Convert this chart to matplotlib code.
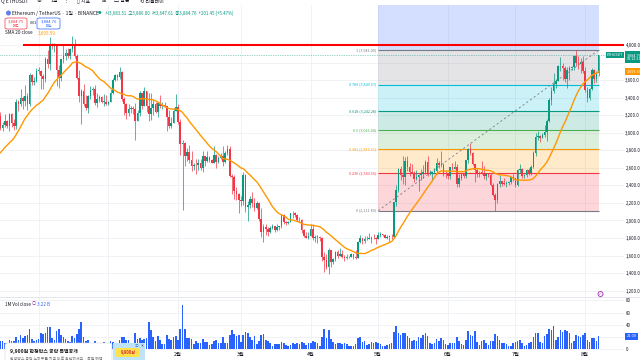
import numpy as np
import pandas as pd
import matplotlib
matplotlib.use("Agg")
import matplotlib.pyplot as plt
import matplotlib.transforms as mtrans
from matplotlib.patches import Rectangle, FancyBboxPatch, Ellipse

plt.rcParams['font.family'] = ['Noto Sans CJK KR', 'DejaVu Sans']

# ETHUSDT 1D, 2024-11-14 .. 2025-08-07
start_date = '2024-11-14'
# closes before the window, only used to warm up the SMA 20
close_prior = [2507, 2528, 2568, 2638, 2659, 2518, 2512, 2493, 2456, 2399,
               2421, 2722, 2895, 2962, 3127, 3183, 3370, 3244, 3187]

close = [
    # Nov
    3058, 3091, 3132, 3075, 3209, 3106, 3072, 3355, 3326, 3394, 3362, 3415, 3326, 3655, 3580, 3591, 3705,
    # Dec
    3708, 3645, 3613, 3838, 3785, 3999, 3996, 4004, 3712, 3627, 3835, 3880, 3907, 3871, 3960, 3985,
    3871, 3625, 3418, 3478, 3330, 3280, 3419, 3491, 3500, 3334, 3380, 3408, 3352, 3356, 3332,
    # Jan
    3353, 3452, 3605, 3657, 3634, 3688, 3380, 3325, 3220, 3266, 3283, 3266, 3137, 3224, 3452, 3308,
    3474, 3306, 3215, 3278, 3327, 3240, 3339, 3303, 3316, 3305, 3181, 3075, 3113, 3247, 3298,
    # Feb
    3128, 2870, 2880, 2732, 2785, 2688, 2622, 2632, 2627, 2660, 2603, 2737, 2676, 2724, 2690, 2660,
    2743, 2671, 2717, 2738, 2662, 2764, 2818, 2512, 2496, 2336, 2307, 2237,
    # Mar
    2218, 2518, 2150, 2171, 2241, 2200, 2140, 2203, 2017, 1865, 1922, 1908, 1864, 1912, 1936, 1887,
    1926, 1932, 2057, 1983, 1966, 1982, 2086, 2083, 2068, 2010, 2003, 1896, 1828, 1806, 1822,
    # Apr
    1905, 1796, 1816, 1817, 1806, 1581, 1552, 1474, 1669, 1523, 1566, 1645, 1597, 1623, 1588, 1577,
    1583, 1587, 1613, 1587, 1578, 1756, 1796, 1770, 1787, 1789, 1792, 1799, 1797, 1794,
    # May
    1838, 1842, 1834, 1806, 1816, 1815, 1811, 2207, 2346, 2583, 2515, 2497, 2680, 2608, 2548, 2546,
    2474, 2496, 2524, 2526, 2550, 2663, 2530, 2532, 2550, 2563, 2658, 2633, 2630, 2531, 2528,
    # Jun
    2508, 2604, 2592, 2607, 2418, 2481, 2525, 2511, 2684, 2814, 2771, 2642, 2579, 2525, 2546, 2545,
    2508, 2525, 2524, 2406, 2296, 2229, 2418, 2445, 2419, 2418, 2424, 2436, 2501, 2486,
    # Jul
    2405, 2571, 2589, 2512, 2516, 2572, 2543, 2613, 2771, 2955, 2960, 2944, 2972, 3013, 3139, 3371,
    3476, 3551, 3594, 3757, 3762, 3738, 3618, 3712, 3733, 3744, 3876, 3795, 3789, 3807, 3698,
    # Aug
    3482, 3393, 3495, 3718, 3611, 3683.31, 3884.76,
]

high = [
    3238, 3122, 3210, 3150, 3222, 3224, 3158, 3383, 3368, 3498, 3420, 3540, 3455, 3680, 3665, 3630, 3737,
    3750, 3720, 3670, 3860, 3945, 4087, 4020, 4018, 4010, 3775, 3845, 3995, 3950, 3970, 3970, 4107,
    4070, 3898, 3720, 3495, 3555, 3425, 3430, 3537, 3520, 3541, 3457, 3428, 3420, 3438, 3425,
    3365, 3495, 3620, 3675, 3666, 3745, 3700, 3411, 3335, 3325, 3300, 3308, 3340, 3260, 3472, 3454,
    3525, 3480, 3450, 3450, 3375, 3356, 3348, 3428, 3348, 3351, 3255, 3254, 3176, 3282, 3438,
    3325, 3162, 2920, 2895, 2830, 2855, 2790, 2660, 2700, 2698, 2700, 2790, 2740, 2790, 2730, 2705,
    2850, 2760, 2740, 2765, 2845, 2790, 2856, 2850, 2530, 2520, 2377, 2310,
    2275, 2550, 2525, 2220, 2280, 2320, 2255, 2225, 2215, 2145, 1960, 1955, 1925, 1935, 1955, 1940,
    1955, 1935, 2070, 2070, 1998, 1995, 2090, 2105, 2095, 2070, 2035, 2018, 1900, 1865, 1865,
    1955, 1955, 1830, 1835, 1820, 1817, 1643, 1620, 1690, 1668, 1575, 1650, 1660, 1690, 1660, 1612,
    1613, 1595, 1625, 1620, 1660, 1770, 1830, 1790, 1827, 1825, 1856, 1825, 1845, 1808,
    1873, 1868, 1850, 1846, 1830, 1830, 1845, 2215, 2404, 2600, 2618, 2738, 2725, 2740, 2655, 2640,
    2565, 2570, 2530, 2588, 2630, 2695, 2735, 2580, 2566, 2600, 2715, 2680, 2790, 2660, 2560,
    2545, 2610, 2655, 2680, 2640, 2525, 2535, 2540, 2690, 2828, 2880, 2780, 2640, 2590, 2560, 2680,
    2620, 2540, 2540, 2545, 2425, 2310, 2430, 2515, 2455, 2487, 2450, 2445, 2510, 2525,
    2490, 2590, 2640, 2595, 2530, 2590, 2595, 2630, 2790, 2995, 3020, 2970, 3000, 3085, 3160, 3395,
    3520, 3680, 3610, 3770, 3860, 3790, 3760, 3745, 3755, 3760, 3885, 3941, 3880, 3855, 3880,
    3745, 3525, 3505, 3735, 3725, 3700, 3886.00,
]

low = [
    3030, 3020, 3071, 3050, 3020, 3060, 3035, 3040, 3250, 3300, 3270, 3300, 3255, 3300, 3540, 3540, 3580,
    3668, 3500, 3502, 3575, 3740, 3710, 3950, 3920, 3530, 3515, 3595, 3800, 3830, 3850, 3835, 3920,
    3855, 3610, 3345, 3100, 3302, 3262, 3225, 3385, 3432, 3315, 3293, 3345, 3340, 3305, 3321,
    3320, 3347, 3440, 3590, 3598, 3610, 3360, 3207, 3155, 3190, 3230, 3218, 2920, 3132, 3190, 3265,
    3305, 3235, 3131, 3141, 3205, 3224, 3180, 3283, 3271, 3291, 3020, 3055, 3052, 3112, 3263,
    3100, 2750, 2120, 2620, 2680, 2650, 2560, 2570, 2525, 2577, 2570, 2550, 2620, 2672, 2665, 2650,
    2650, 2600, 2650, 2700, 2620, 2660, 2745, 2500, 2300, 2250, 2230, 2080,
    2170, 2172, 2100, 1995, 2145, 2150, 2105, 2135, 1995, 1810, 1755, 1830, 1820, 1860, 1905, 1870,
    1880, 1890, 1915, 1960, 1945, 1962, 1980, 2030, 2035, 1995, 1985, 1860, 1810, 1795, 1785,
    1820, 1775, 1760, 1745, 1765, 1535, 1411, 1450, 1385, 1470, 1505, 1540, 1575, 1605, 1578, 1536,
    1565, 1572, 1580, 1565, 1565, 1570, 1740, 1730, 1740, 1780, 1785, 1745, 1785, 1736,
    1790, 1815, 1825, 1800, 1785, 1753, 1786, 1808, 2165, 2330, 2462, 2415, 2400, 2565, 2505, 2540,
    2440, 2465, 2335, 2462, 2490, 2530, 2510, 2515, 2450, 2530, 2530, 2600, 2615, 2510, 2485,
    2475, 2477, 2580, 2590, 2385, 2385, 2460, 2490, 2480, 2650, 2750, 2630, 2440, 2500, 2500, 2530,
    2472, 2460, 2497, 2390, 2280, 2111, 2203, 2380, 2391, 2400, 2380, 2410, 2420, 2450,
    2385, 2395, 2540, 2485, 2490, 2500, 2520, 2520, 2595, 2735, 2920, 2895, 2935, 2950, 2910, 3120,
    3315, 3450, 3515, 3585, 3705, 3600, 3580, 3510, 3600, 3710, 3715, 3765, 3730, 3685, 3680,
    3470, 3355, 3370, 3490, 3570, 3575, 3647.61,
]

volume = [
    14, 13, 10, 11, 15, 13, 14, 20, 16, 24, 18, 22, 24, 33, 17, 14, 16,
    17, 26, 25, 27, 37, 36, 18, 16, 30, 33, 24, 20, 17, 13, 12, 22, 18, 25, 33, 44, 20, 13, 15, 11,
    8, 13, 11, 7, 7, 12, 10,
    8, 13, 12, 8, 7, 15, 20, 20, 16, 15, 7, 7, 26, 17, 19, 15, 17, 18, 44, 32, 20, 13, 21, 15, 8, 8,
    24, 17, 15, 20, 21,
    15, 33, 73, 33, 18, 19, 17, 9, 13, 11, 10, 17, 12, 12, 7, 8, 13, 16, 11, 10, 20, 11, 10, 24, 31,
    25, 21, 24,
    12, 24, 28, 27, 20, 16, 21, 9, 14, 24, 25, 15, 13, 11, 6, 8, 9, 8, 12, 10, 7, 5, 7, 10, 9, 10, 8,
    12, 10, 7, 11,
    10, 14, 12, 11, 6, 20, 33, 18, 31, 17, 12, 9, 11, 10, 9, 11, 8, 5, 5, 6, 9, 18, 20, 12, 14, 7, 8,
    12, 10, 12,
    10, 8, 5, 5, 7, 8, 10, 28, 38, 27, 24, 27, 26, 22, 19, 13, 16, 14, 20, 18, 23, 27, 22, 11, 9, 10,
    17, 13, 18, 15, 9,
    7, 10, 10, 11, 20, 14, 9, 7, 15, 30, 24, 22, 30, 12, 7, 14, 16, 11, 7, 13, 14, 25, 21, 15, 11, 11,
    9, 5, 6, 10,
    12, 13, 15, 11, 6, 7, 10, 12, 20, 26, 27, 12, 11, 21, 25, 33, 32, 38, 16, 20, 31, 29, 31, 30, 27,
    11, 14, 23, 21, 20, 24,
    27, 16, 12, 18, 18, 14, 21,
]

# drawings on the chart
resistance_price = 3995
resistance_from = '2024-11-24'
fib_from, fib_to = '2025-05-01', '2025-08-07'
fib_low, fib_high = 2111.89, 3941.00
fib_levels = [0, 0.236, 0.382, 0.5, 0.618, 0.786, 1]
fib_colors = ['#787b86', '#f23645', '#ff9800', '#4caf50', '#089981', '#00bcd4', '#787b86']
price_ticks = [1200, 1400, 1600, 1800, 2000, 2200, 2400, 2600, 2800, 3000, 3200, 3400, 3600, 3800, 4000]
vol_ticks = [0, 20, 40, 60, 80]

# header texts
title_txt = 'Ethereum / TetherUS · 1일 · BINANCE'
ohlc_txt = '시3,683.31  고3,886.00  저3,647.61  종3,884.76  +201.45 (+5.47%)'
bid_txt, ask_txt, spread_txt = '3,884.75', '3,884.76', '0.01'
sma_txt = '3,695.59'
vol_legend_txt = '3.22 B'

UP, DOWN = '#089981', '#f23645'
W, H = 640, 360

dates = pd.date_range(start_date, periods=len(close), freq='D')
idx = np.arange(len(close))
c = np.array(close, float)
o = np.concatenate([[close_prior[-1]], c[:-1]])
hi = np.maximum.reduce([np.array(high, float), o, c])
lo = np.minimum.reduce([np.array(low, float), o, c])
sma = pd.Series(np.concatenate([close_prior, c])).rolling(20).mean().to_numpy()[len(close_prior):]
colors = np.where(c >= o, UP, DOWN)


def day(s):
    return int(np.where(dates == pd.Timestamp(s))[0][0])


def fx(x):
    return x / W


def fy(y):
    return 1 - y / H


fig = plt.figure(figsize=(6.4, 3.6), dpi=100)
ax = fig.add_axes([0, fy(296), fx(624), (296 - 5) / H])
axv = fig.add_axes([0, fy(350), fx(624), (350 - 297) / H])

x_lo, x_hi = -0.15, 277.3
for a in (ax, axv):
    a.set_xlim(x_lo, x_hi)
    for s in a.spines.values():
        s.set_visible(False)
    a.set_axisbelow(True)
    a.grid(color='#eef0f5', lw=0.6)
ax.set_ylim(1139.6, 4455.8)
axv.set_ylim(-1.1, 85.4)

# month ticks (the first two sit under the ad box in the screenshot)
month_idx = [i for i, d in enumerate(dates) if d.day == 1]
month_lbl = ['' if dates[i] < pd.Timestamp('2025-02-01') else f'{dates[i].month}월' for i in month_idx]
for a in (ax, axv):
    a.set_xticks(month_idx)
ax.tick_params(axis='x', length=0, labelbottom=False)
axv.set_xticklabels(month_lbl)
axv.tick_params(axis='x', length=0, pad=1.2, labelsize=3.8, colors='#131722')

ax.set_yticks(price_ticks)
ax.set_yticklabels(['' if p == 3800 else f'{p:,.1f}' for p in price_ticks])
axv.set_yticks(vol_ticks)
axv.set_yticklabels(['' if v == 20 else f'{v}' for v in vol_ticks])
for a in (ax, axv):
    a.yaxis.tick_right()
    a.tick_params(axis='y', length=0, pad=1, labelsize=3.1, colors='#131722')

# fibonacci retracement
f0, f1 = day(fib_from), day(fib_to)
fib_prices = [fib_low + lv * (fib_high - fib_low) for lv in fib_levels]
ax.fill_between([f0, f1], fib_high, 4455.8, color='#2962ff', alpha=0.2, lw=0)
for k in range(1, len(fib_levels)):
    ax.fill_between([f0, f1], fib_prices[k - 1], fib_prices[k], color=fib_colors[k], alpha=0.2, lw=0)
for lv, p, col in zip(fib_levels, fib_prices, fib_colors):
    ax.hlines(p, f0, f1, color=col, lw=0.8)
    ax.text(f0 - 0.8, p, f'{lv:g} ({p:,.2f})', ha='right', va='center', fontsize=2.7, color=col)
ax.plot([f0, f1], [fib_low, fib_high], color='#787b86', lw=0.6, ls=(0, (2.5, 3)))

# resistance line and last price line
ax.hlines(resistance_price, day(resistance_from), x_hi, color='#ff0000', lw=1.5, zorder=4)
ax.axhline(c[-1], color=UP, lw=0.5, ls=(0, (1, 1.5)), alpha=0.8)

# candles
ax.vlines(idx, lo, hi, colors=colors, lw=0.5, zorder=3)
ax.bar(idx, np.maximum(np.abs(c - o), 6), bottom=np.minimum(o, c), width=0.7,
       color=colors, lw=0, zorder=3)
ax.plot(idx, sma, color='#ff9800', lw=1.0, zorder=4)

# volume
axv.bar(idx, volume, width=0.72, color='#2962ff', lw=0)

# price scale tags
tr = mtrans.blended_transform_factory(ax.transAxes, ax.transData)
trv = mtrans.blended_transform_factory(axv.transAxes, axv.transData)
ax.text(0.9985, c[-1], 'ETHUSDT', transform=tr, ha='right', va='center', fontsize=2.6,
        color='white', clip_on=False, zorder=6,
        bbox=dict(boxstyle='square,pad=0.35', fc=UP, ec='none'))
ax.text(1.004, c[-1], '3,884.76\n04:12:31', transform=mtrans.offset_copy(tr, fig, y=2.2, units='dots'),
        ha='left', va='top', fontsize=2.7, color='white', clip_on=False, zorder=6, linespacing=1.1,
        bbox=dict(boxstyle='square,pad=0.45', fc=UP, ec='none'))
ax.text(1.004, sma[-1], sma_txt, transform=tr, ha='left', va='center', fontsize=2.8,
        color='white', clip_on=False, zorder=6,
        bbox=dict(boxstyle='square,pad=0.35', fc='#ff9800', ec='none'))
axv.text(1.004, volume[-1], f'{volume[-1]:.2f}', transform=trv, ha='left', va='center',
         fontsize=2.8, color='white', clip_on=False, zorder=6,
         bbox=dict(boxstyle='square,pad=0.35', fc='#2962ff', ec='none'))

# pane separator and events icon
fig.add_artist(plt.Line2D([0, 1], [fy(296.5)] * 2, color='#e0e3eb', lw=0.6))
fig.add_artist(Ellipse((fx(600.5), fy(294)), 5 / W, 5 / H, fc='white', ec='#9c27b0', lw=0.6))
fig.text(fx(600.5), fy(294), '✓', ha='center', va='center', fontsize=2.4, color='#9c27b0')


def ftext(x, y, s, **kw):
    kw.setdefault('va', 'center')
    kw.setdefault('fontsize', 3.4)
    kw.setdefault('color', '#131722')
    fig.text(fx(x), fy(y), s, **kw)


# toolbar (cut off at the top)
for x, s in [(1, 'Q ETHUSDT'), (36, '⊕'), (51, '1일'), (64, '⋮'), (77, '▯ 지표'),
             (101, '⊞'), (114, '▢ 알림'), (140, '⟲ 리플레이')]:
    ftext(x, 1.0, s, fontsize=3.6)

# legend rows
fig.add_artist(Ellipse((fx(8.5), fy(13)), 5 / W, 5 / H, fc='#627eea', ec='none'))
ftext(12.5, 13, title_txt, fontsize=3.5)
ftext(98, 13, '●', fontsize=2.6, color=UP)
ftext(105, 13, ohlc_txt, fontsize=3.2, color=UP)
for x0, w, col, top, bot in [(5, 22, DOWN, bid_txt, '매도'), (37, 23, '#2962ff', ask_txt, '매수')]:
    fig.add_artist(FancyBboxPatch((fx(x0), fy(29)), w / W, 11 / H,
                                  boxstyle='round,pad=0,rounding_size=0.004',
                                  fc='white', ec=col, lw=0.5))
    ftext(x0 + w / 2, 21, top, ha='center', fontsize=3.0, color=col)
    ftext(x0 + w / 2, 26, bot, ha='center', fontsize=2.5, color=col)
ftext(29.5, 23.5, spread_txt, fontsize=2.7)
ftext(5, 33, 'SMA 20 close', fontsize=3.3)
ftext(38, 33, sma_txt, fontsize=3.3, color='#ff9800')
ftext(5, 304, '1M Vol close', fontsize=3.3)
ftext(33.5, 304, '○', fontsize=3.0, color='#9c27b0', ha='center')
ftext(37, 304, vol_legend_txt, fontsize=3.3, color='#2962ff')

# ad overlay at the bottom
fig.add_artist(FancyBboxPatch((fx(5), fy(361)), 107 / W, 18 / H,
                              boxstyle='round,pad=0,rounding_size=0.005',
                              fc='white', ec='#d9d9d9', lw=0.4))
ftext(10, 351, '9,900원 한정박스 공략 특별공개', fontsize=3.6, weight='bold', color='#222222')
ftext(10, 358.5, '한정박스 공략 노하우를 지금 바로 확인하세요 · 특별 혜택', fontsize=2.8, color='#777777')
fig.add_artist(Rectangle((fx(113), fy(361)), 32 / W, 18 / H, fc='#bfe4f6', ec='none'))
fig.add_artist(Rectangle((fx(116), fy(357)), 24 / W, 9 / H, fc='#ffe14d', ec='none'))
ftext(128, 352.5, '9,900원', ha='center', fontsize=3.0, weight='bold', color='#d0312d')
ftext(136.5, 346, 'ⓘ', ha='center', fontsize=2.6, color='#2962ff')
ftext(142.5, 346, '✕', ha='center', fontsize=2.6, color='#333333')

fig.savefig('out.png', dpi=100)
